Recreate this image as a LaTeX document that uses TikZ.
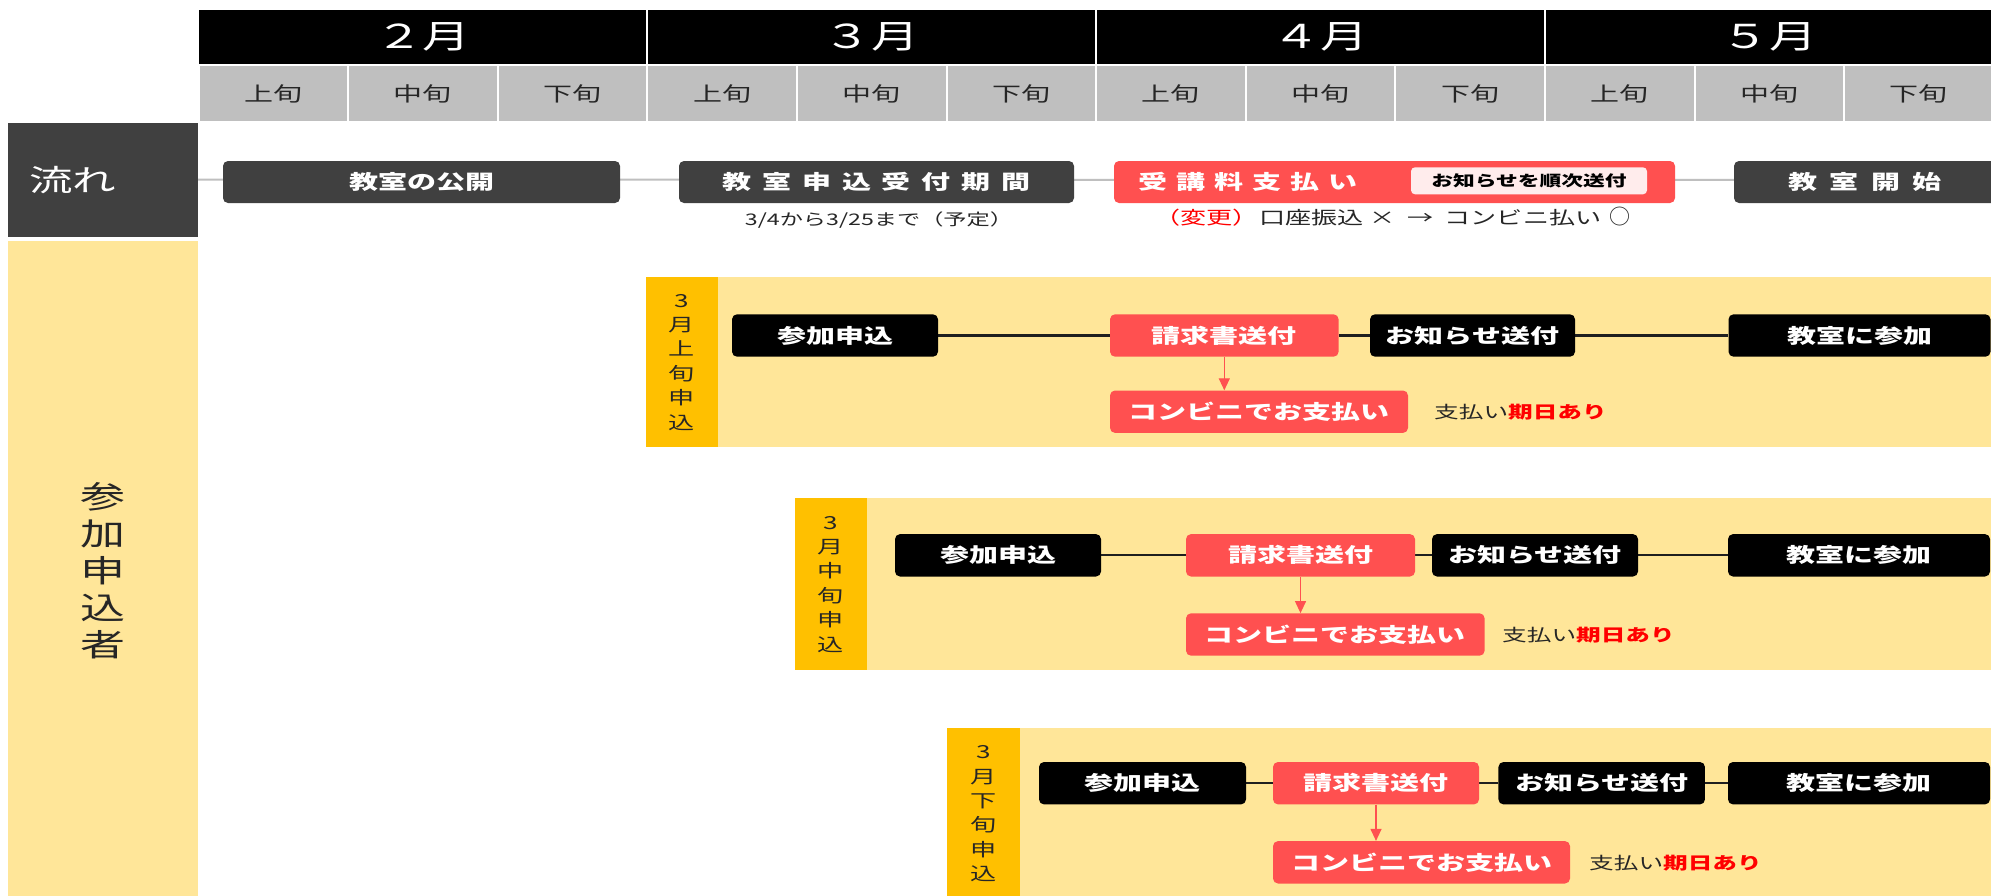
\documentclass[tikz,border=0pt]{standalone}
\usepackage{fontspec}
\setmainfont{Noto Sans CJK JP}
\usetikzlibrary{arrows.meta}
\definecolor{dk}{HTML}{404040}
\definecolor{rd}{HTML}{FF5050}
\definecolor{pk}{HTML}{FFECEC}
\definecolor{yl}{HTML}{FFE699}
\definecolor{og}{HTML}{FFC000}
\definecolor{gy}{HTML}{BFBFBF}
\definecolor{tx}{HTML}{262626}
\definecolor{pure}{HTML}{FF0000}
\newcommand\sx[1]{\scalebox{1.45}[1]{#1}}
\newcommand\fsz[1]{\fontsize{#1}{#1}\selectfont}
\newcommand\gpa{\hspace{7.5pt}}
\newcommand\gpb{\hspace{6.2pt}}
\newcommand\gpc{\hspace{8.7pt}}
\pgfdeclarelayer{bg}\pgfdeclarelayer{ln}\pgfsetlayers{bg,ln,main}
\begin{document}
\begin{tikzpicture}[x=1pt,y=-1pt,
  mcell/.style={fill=black, draw=white, line width=2pt, text=white, font=\fsz{33}, inner sep=0, minimum width=449.6, minimum height=56},
  dcell/.style={fill=gy, draw=white, line width=2pt, text=tx, font=\fsz{20}, inner sep=0, minimum width=149.6, minimum height=57},
  fbox/.style={fill=dk, rounded corners=5pt, text=white, font=\bfseries\fsz{20}, inner sep=0, minimum height=42},
  bbox/.style={fill=black, rounded corners=5pt, text=white, font=\bfseries\fsz{20}, inner sep=0, minimum height=42.4},
  rbox/.style={fill=rd, rounded corners=5pt, text=white, font=\bfseries\fsz{20}, inner sep=0, minimum height=42.4},
  lab/.style={fill=og, inner sep=0, text=tx, align=center, font=\fontsize{18}{24.4}\selectfont},
  note/.style={inner sep=0, text=tx, font=\fsz{17}},
  gline/.style={draw=black!88, line width=2.2pt},
  fline/.style={draw=gy, line width=2pt},
  arr/.style={draw=rd, line width=1.2pt, -{Triangle[length=12pt,width=11pt]}}
]
\useasboundingbox (0,0) rectangle (1991,895);

% header
\foreach \m [count=\i from 0] in {２,３,４,５} {
  \node[mcell] (m\i) at ({198.5+(\i+0.5)*448.8},37) {\sx{\m 月}};
}
\foreach \j in {0,...,11} {
  \pgfmathtruncatemacro\k{mod(\j,3)}
  \node[dcell] (d\j) at ({198.5+(\j+0.5)*149.6},93.6) {\sx{\ifcase\k 上旬\or 中旬\or 下旬\fi}};
}

% flow row
\node[fill=dk, text=white, minimum width=190, minimum height=114.2, inner xsep=21, inner ysep=0, text width=148, align=left, font=\fsz{30}] (flow) at (103,179.6) {\sx{流れ}};
\coordinate (fend) at (1991,180);
\node[fbox, minimum width=397] (pub) at (421.5,182) {\sx{教室の公開}};
\node[fbox, minimum width=395] (uke) at (876.5,182) {\sx{教\gpa 室\gpa 申\gpa 込\gpa 受\gpa 付\gpa 期\gpa 間}};
\node[fill=rd, rounded corners=5pt, minimum width=561, minimum height=42, inner sep=0] (pay) at (1394.5,182) {};
\node[anchor=west, text=white, font=\bfseries\fsz{20}, inner sep=0] (payt) at (1138,182) {\sx{受\gpb 講\gpb 料\gpb 支\gpb 払\gpb い}};
\node[fill=pk, rounded corners=4pt, minimum width=236, minimum height=27, inner sep=0, font=\bfseries\fsz{15}, text=black] (info) at (1529,180.8) {\sx{お知らせを順次送付}};
\node[fbox, minimum width=262] (start) at (1865,182) {\sx{教\gpc 室\gpc 開\gpc 始}};
\node[note, font=\fsz{16}] (date) at (879,220) {\sx{3/4から3/25まで（予定）}};
\node[note, font=\fsz{18}] (chg) at (1392.5,217) {\sx{{\color{pure}（変更）}口座振込 ×\hspace{8pt}→\hspace{8pt}コンビニ払い}\hspace{8pt}{\fontsize{21}{21}\selectfont ○}};
\begin{pgfonlayer}{ln}
\draw[fline] (flow.east) -- (fend);
\end{pgfonlayer}

% participants column
\node[fill=yl, minimum width=190, minimum height=660, inner sep=0, align=center, text=tx, font=\fontsize{31}{37}\selectfont] (sanka) at (103,571) {\sx{参}\\\sx{加}\\\sx{申}\\\sx{込}\\\sx{者}};

% bands
\begin{pgfonlayer}{bg}
\fill[white] (0,0) rectangle (1991,895);
\fill[yl] (717,277) rectangle (1995,447.3);
\fill[yl] (866,498.3) rectangle (1995,670);
\fill[yl] (1019,727.7) rectangle (1995,900);
\end{pgfonlayer}

% group 1
\node[lab, minimum width=71.5, minimum height=170.3] (l1) at (681.75,362.15) {\sx{3}\\\sx{月}\\\sx{上}\\\sx{旬}\\\sx{申}\\\sx{込}};
\node[bbox, minimum width=206] (a1) at (835,335.5) {\sx{参加申込}};
\node[rbox, minimum width=228.6] (s1) at (1224.3,335.5) {\sx{請求書送付}};
\node[bbox, minimum width=205] (o1) at (1472.5,335.5) {\sx{お知らせ送付}};
\node[bbox, minimum width=262] (c1) at (1859.5,335.5) {\sx{教室に参加}};
\node[rbox, minimum width=298] (k1) at (1259,411.7) {\sx{コンビニでお支払い}};
\node[note, anchor=west] (n1) at (1434,412.5) {\sx{支払い{\bfseries\color{pure}期日あり}}};

% group 2
\node[lab, minimum width=72.1, minimum height=171.7] (l2) at (830.55,584.15) {\sx{3}\\\sx{月}\\\sx{中}\\\sx{旬}\\\sx{申}\\\sx{込}};
\node[bbox, minimum width=206] (a2) at (998,555.3) {\sx{参加申込}};
\node[rbox, minimum width=229] (s2) at (1300.5,555.3) {\sx{請求書送付}};
\node[bbox, minimum width=206] (o2) at (1535,555.3) {\sx{お知らせ送付}};
\node[bbox, minimum width=262] (c2) at (1859,555.3) {\sx{教室に参加}};
\node[rbox, minimum width=298.6] (k2) at (1335.3,634.5) {\sx{コンビニでお支払い}};
\node[note, anchor=west] (n2) at (1502,635.5) {\sx{支払い{\bfseries\color{pure}期日あり}}};

% group 3
\node[lab, minimum width=72.4, minimum height=172.3] (l3) at (983.5,813.85) {\sx{3}\\\sx{月}\\\sx{下}\\\sx{旬}\\\sx{申}\\\sx{込}};
\node[bbox, minimum width=207] (a3) at (1142.5,783.2) {\sx{参加申込}};
\node[rbox, minimum width=206] (s3) at (1376,783.2) {\sx{請求書送付}};
\node[bbox, minimum width=206.5] (o3) at (1601.7,783.2) {\sx{お知らせ送付}};
\node[bbox, minimum width=262] (c3) at (1859,783.2) {\sx{教室に参加}};
\node[rbox, minimum width=297] (k3) at (1421.5,862.3) {\sx{コンビニでお支払い}};
\node[note, anchor=west] (n3) at (1589,863.3) {\sx{支払い{\bfseries\color{pure}期日あり}}};

\begin{pgfonlayer}{ln}
\foreach \g in {1,2,3} {
  \draw[gline] (a\g) -- (s\g) -- (o\g) -- (c\g);
}
\end{pgfonlayer}
\foreach \g in {1,2,3} {
  \draw[arr] (s\g.south) -- (s\g.south |- k\g.north);
}
\end{tikzpicture}
\end{document}
